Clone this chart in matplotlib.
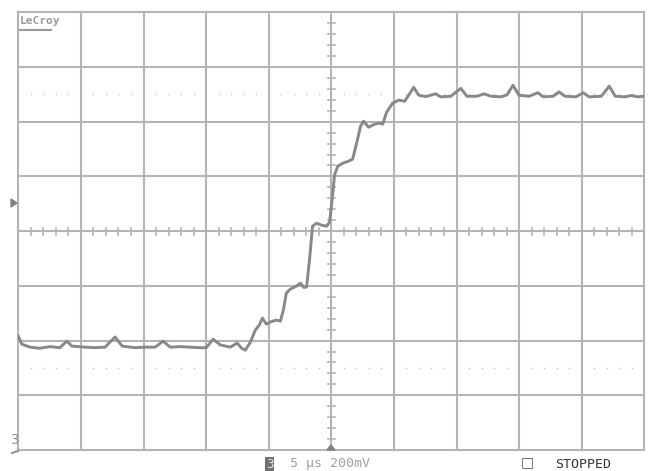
import matplotlib
matplotlib.use("Agg")
import matplotlib.pyplot as plt
import numpy as np

# scope settings
time_per_div = 5      # us
volts_per_div = 200   # mV
n_xdiv = 10
n_ydiv = 8

# trace: time (us) from left edge, level (mV) from centre
trace_t = [0.0, 0.28, 0.92, 1.72, 2.52, 3.32, 3.88, 4.28, 5.32, 6.12, 6.93, 7.73,
           8.29, 9.33, 10.13, 10.93, 11.57, 12.13, 12.93, 13.73, 14.53, 15.01,
           15.57, 16.13, 16.93, 17.49, 17.81, 18.13, 18.53, 18.93, 19.25, 19.50,
           19.81, 20.13, 20.61, 20.93, 21.17, 21.41, 21.73, 22.21, 22.54, 22.78,
           23.02, 23.26, 23.50, 23.82, 24.22, 24.62, 24.86, 25.02, 25.26, 25.50,
           25.90, 26.38, 26.70, 27.02, 27.34, 27.58, 27.98, 28.46, 28.86, 29.10,
           29.42, 29.90, 30.38, 30.86, 31.18, 31.58, 31.98, 32.54, 33.34, 33.74,
           34.54, 35.35, 35.83, 36.63, 37.19, 37.75, 38.55, 39.03, 39.51, 39.99,
           40.79, 41.51, 41.91, 42.71, 43.19, 43.67, 44.55, 45.12, 45.60, 46.56,
           47.20, 47.68, 48.48, 48.96, 49.44, 50.0]
trace_mv = [-384, -413, -424, -428, -422, -426, -402, -420, -424, -426, -424, -387,
            -420, -426, -424, -424, -402, -424, -422, -424, -426, -426,
            -395, -416, -424, -409, -427, -435, -406, -362, -343, -318,
            -340, -332, -325, -329, -289, -226, -212, -201, -190, -205,
            -205, -106, 18, 29, 22, 18, 33, 95, 205, 237,
            248, 256, 263, 321, 384, 402, 380, 391, 395, 391,
            435, 468, 479, 475, 497, 526, 497, 492, 502, 491,
            493, 522, 493, 493, 502, 493, 491, 498, 533, 497,
            493, 506, 491, 493, 509, 493, 491, 506, 491, 493,
            530, 493, 491, 496, 491, 493]

# dotted reference levels (divisions from centre)
ref_levels = [2.5, -2.5]

grid_col = '#b4b4b4'
trace_col = '#888888'
text_col = '#a0a0a0'

fig = plt.figure(figsize=(6.5, 4.71), dpi=100)
ax = fig.add_axes([18.3 / 650, 21 / 471, 626 / 650, 437.7 / 471])

xmax = n_xdiv * time_per_div
ymax = n_ydiv / 2 * volts_per_div
ax.set_xlim(0, xmax)
ax.set_ylim(-ymax, ymax)
ax.set_xticks([])
ax.set_yticks([])
for s in ax.spines.values():
    s.set_color(grid_col)
    s.set_linewidth(1.5)

# grid
for i in range(1, n_xdiv):
    ax.axvline(i * time_per_div, color=grid_col, lw=1.5, zorder=1)
for j in range(1, n_ydiv):
    ax.axhline(-ymax + j * volts_per_div, color=grid_col, lw=1.5, zorder=1)

# small ticks on the centre lines
tx = np.arange(0, xmax + 0.01, time_per_div / 5)
ty = np.arange(-ymax, ymax + 0.01, volts_per_div / 5)
dy = volts_per_div * 3.5 / 54.7
dx = time_per_div * 3.5 / 62.6
for t in tx:
    ax.plot([t, t], [-dy, dy], color=grid_col, lw=1.2, zorder=1)
for v in ty:
    ax.plot([xmax / 2 - dx, xmax / 2 + dx], [v, v], color=grid_col, lw=1.2, zorder=1)

# dotted reference lines
dots_x = [t for t in tx if abs(t / time_per_div - round(t / time_per_div)) > 1e-6]
for lvl in ref_levels:
    ax.plot(dots_x, [lvl * volts_per_div] * len(dots_x), ls='none', marker='s',
            ms=1.1, color='#c8c8c8', mew=0, zorder=1)

# trace
ax.plot(trace_t, trace_mv, color=trace_col, lw=2.1, solid_joinstyle='round', zorder=3)

# LeCroy logo
fig.text(19.5 / 650, 1 - 21.5 / 471, 'LeCroy', color='#999999', fontsize=8,
         fontweight='bold', family='DejaVu Sans Mono', ha='left', va='center')
fig.add_artist(plt.Line2D([20 / 650, 51 / 650], [1 - 29.5 / 471, 1 - 29.5 / 471],
                          color='#9a9a9a', lw=1.5))

# trigger level marker on the left
fig.add_artist(plt.Polygon([[11 / 650, 1 - 199 / 471], [11 / 650, 1 - 207 / 471],
                            [17 / 650, 1 - 203 / 471]], closed=True, color='#808080'))
# channel 3 ground marker
fig.text(10 / 650, 1 - 447 / 471, '3', color='#909090', fontsize=10,
         family='DejaVu Sans Mono', ha='left', va='bottom')
fig.add_artist(plt.Line2D([12 / 650, 18 / 650, 18 / 650],
                          [1 - 453 / 471, 1 - 451 / 471, 1 - 451 / 471],
                          color='#909090', lw=1.5))

# trigger time marker at the bottom
fig.add_artist(plt.Polygon([[327 / 650, 1 - 450 / 471], [335 / 650, 1 - 450 / 471],
                            [331 / 650, 1 - 445 / 471]], closed=True, color='#808080'))

# status line
fig.text(266 / 650, 1 - 464 / 471, '3', color='#e0e0e0', fontsize=9,
         family='DejaVu Sans Mono', ha='left', va='center',
         bbox=dict(boxstyle='square,pad=0.05', fc='#707070', ec='none'))
fig.text(290 / 650, 1 - 464 / 471, '5 \u00b5s 200mV', color=text_col, fontsize=9.5,
         family='DejaVu Sans Mono', ha='left', va='center')
fig.text(521 / 650, 1 - 462 / 471, '\u25a1', color='#555555', fontsize=10,
         family='DejaVu Sans', ha='left', va='center')
fig.text(555 / 650, 1 - 464 / 471, 'STOPPED', color='#333333', fontsize=9.5,
         family='DejaVu Sans Mono', ha='left', va='center')

fig.savefig('out.png', dpi=100)
